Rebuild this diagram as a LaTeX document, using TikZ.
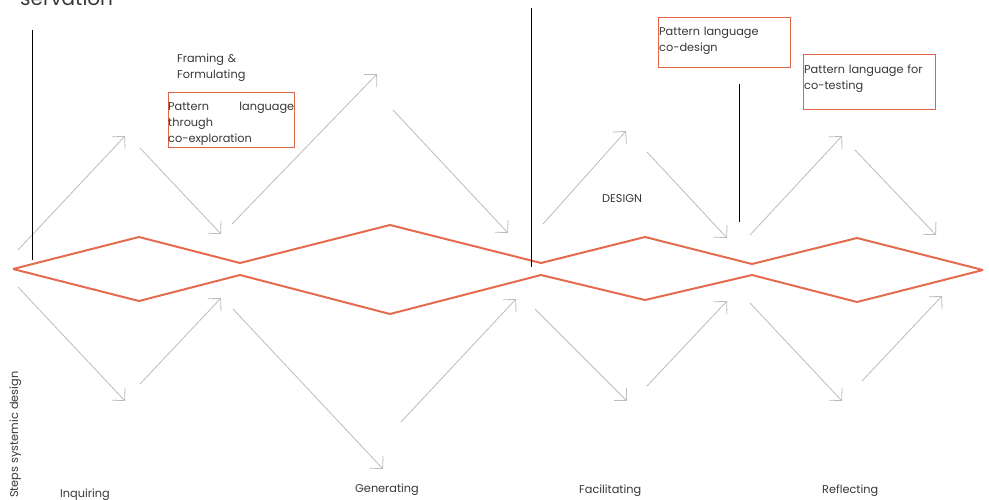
\documentclass[tikz,border=0pt]{standalone}
\usepackage{fontspec}
\setmainfont{Poppins}
\usepackage{xcolor}
\definecolor{ziporange}{RGB}{229,107,78}
\definecolor{boxorange}{RGB}{226,100,70}
\definecolor{flowgray}{RGB}{188,188,188}
\definecolor{textgray}{RGB}{55,55,55}
\usetikzlibrary{arrows.meta}

\begin{document}
\begin{tikzpicture}[x=1pt,y=-1pt,>={Straight Barb[length=9pt,width=18pt]},
  flow/.style={->,flowgray,line width=0.8pt},
  zig/.style={ziporange,line width=2pt},
  divider/.style={black,line width=0.9pt},
  lbl/.style={textgray,font=\fontsize{11.3}{16}\selectfont,anchor=base west,inner sep=0pt},
  pbox/.style={draw=boxorange,line width=0.8pt,anchor=north west,inner sep=0pt}]
\useasboundingbox (0,0) rectangle (989,499);
% double diamond
\coordinate (left) at (13,269); \coordinate (right) at (983,270);
\draw[zig] (left) -- (139,237) -- (240,263) -- (390,225) -- (541,263) -- (645,237) -- (752,264) -- (857,238) -- (right);
\draw[zig] (left) -- (139,301) -- (240,275) -- (390,314) -- (541,275) -- (645,300) -- (752,275) -- (857,302) -- (right);
% diverging / converging arrows
\foreach \xa/\ya/\xb/\yb in {18/250/125/136, 140/148/221/234, 232/224/377/74, 393/110/508/233,
  543/224/626/131, 647/152/727/238, 750/235/842/136, 855/150/936/235}
  \draw[flow] (\xa,\ya) -- (\xb,\yb);
\foreach \xa/\ya/\xb/\yb in {18/287/125/401, 140/384/221/298, 233/309/383/469, 401/422/516/299,
  535/309/627/401, 647/386/727/301, 750/303/842/401, 862/381/942/296}
  \draw[flow] (\xa,\ya) -- (\xb,\yb);
% markers
\draw[divider] (32,30) -- (32,260);
\draw[divider] (531,8) -- (531,267);
\draw[divider] (739,84) -- (739,222);
% labels
\node[lbl,font=\fontsize{20}{24}\selectfont] (servation) at (20,5) {servation};
\node[lbl,text width=110pt,align=left] (framing) at (177,62) {Framing \&\\Formulating};
\node[pbox,minimum width=126pt,minimum height=55pt] (explorebox) at (168,92) {};
\node[lbl,text width=126pt,align=left] (exploretext) at (168,110) {Pattern\hfill language\\through\\co-exploration};
\node[pbox,minimum width=132pt,minimum height=50pt] (designbox) at (658,17) {};
\node[lbl,text width=130pt,align=left] (designtext) at (659,35) {Pattern language\\co-design};
\node[pbox,minimum width=132pt,minimum height=55pt] (testbox) at (803,54) {};
\node[lbl,text width=130pt,align=left] (testtext) at (804,73) {Pattern language for\\co-testing};
\node[lbl] (design) at (602,202) {DESIGN};
\node[lbl] (inquiring) at (60,497) {Inquiring};
\node[lbl] (generating) at (355,492) {Generating};
\node[lbl] (facilitating) at (579,493) {Facilitating};
\node[lbl] (reflecting) at (822,493) {Reflecting};
\node[lbl,rotate=90] (steps) at (18,498) {Steps systemic design};
\end{tikzpicture}
\end{document}
